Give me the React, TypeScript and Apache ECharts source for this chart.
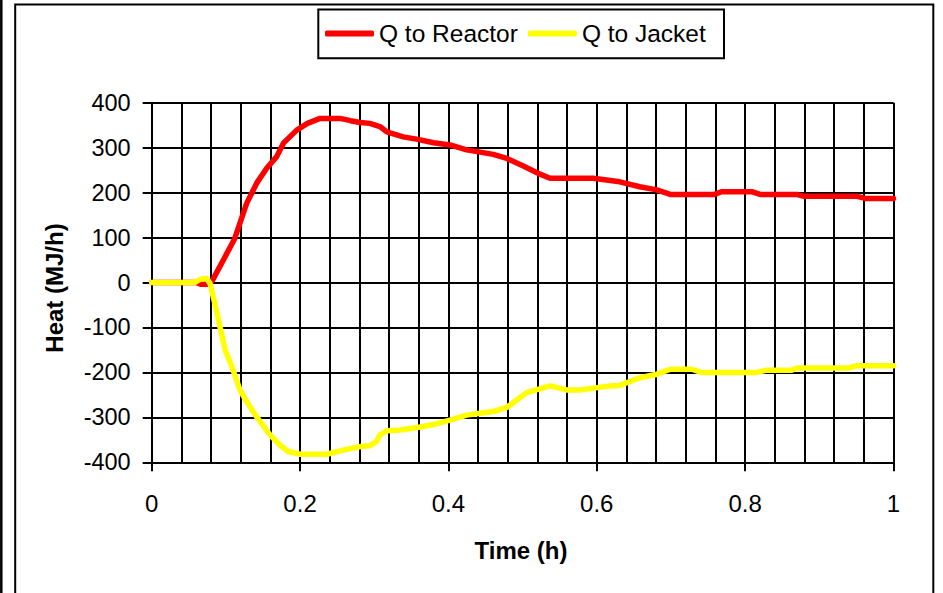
import React, { useEffect, useRef } from "react";
import * as echarts from "echarts";

const seriesNames = ["Q to Reactor", "Q to Jacket"];

const reactorTime = [0, 0.06, 0.066, 0.075, 0.081, 0.0966, 0.112, 0.119, 0.128, 0.1415, 0.155, 0.1685, 0.1775, 0.1955, 0.21, 0.227, 0.254, 0.268, 0.281, 0.294, 0.3077, 0.317, 0.339, 0.357, 0.38, 0.402, 0.4246, 0.4426, 0.4605, 0.4786, 0.501, 0.5235, 0.537, 0.559, 0.595, 0.631, 0.658, 0.681, 0.699, 0.759, 0.768, 0.809, 0.82, 0.8695, 0.878, 0.95, 0.9616, 1.0];
const reactorHeat = [0, 0, -4, -4, 2, 50, 98, 132, 176, 221, 254, 280, 310, 339, 354, 365, 365, 360, 356, 354, 347, 335, 324, 319, 311, 306, 295, 290, 285, 276, 259, 241, 232, 232, 232, 224, 213, 206, 196, 196, 202, 202, 196, 196, 192, 192, 187, 187];

const jacketTime = [0, 0.058, 0.065, 0.074, 0.0786, 0.085, 0.092, 0.099, 0.108, 0.119, 0.128, 0.1415, 0.1595, 0.173, 0.184, 0.2, 0.236, 0.258, 0.281, 0.294, 0.303, 0.3077, 0.317, 0.335, 0.36, 0.38, 0.402, 0.4246, 0.4426, 0.4605, 0.4786, 0.5055, 0.537, 0.559, 0.577, 0.618, 0.631, 0.658, 0.681, 0.699, 0.728, 0.741, 0.816, 0.829, 0.8628, 0.8695, 0.941, 0.95, 1.0];
const jacketHeat = [0, 0, 7, 9, -2, -46, -98, -150, -187, -239, -265, -299, -339, -362, -376, -382, -382, -373, -365, -363, -354, -339, -330, -328, -322, -316, -306, -295, -291, -287, -278, -245, -230, -239, -239, -230, -229, -212, -204, -193, -193, -200, -200, -195, -195, -190, -190, -185, -185];

const xMin = 0;
const xMax = 1;
const xInterval = 0.2;
const yMin = -400;
const yMax = 400;
const yInterval = 100;

const xTitle = "Time (h)";
const yTitle = "Heat (MJ/h)";

const FONT = "'Liberation Sans', Arial, sans-serif";

export default function App() {
  const ref = useRef<HTMLDivElement>(null);

  useEffect(() => {
    if (!ref.current) return;
    const chart = echarts.init(ref.current, undefined, { renderer: "svg" });
    const reactorData = reactorTime.map((t, i) => [t, reactorHeat[i]]);
    const jacketData = jacketTime.map((t, i) => [t, jacketHeat[i]]);
    const black = "#000000";

    chart.setOption({
      animation: false,
      backgroundColor: "#ffffff",
      textStyle: { fontFamily: FONT, color: black },
      grid: { left: 151.7, top: 102.7, width: 741.8, height: 359.6, containLabel: false },
      legend: {
        show: true,
        left: 325,
        top: 21,
        padding: 0,
        itemGap: 10,
        itemWidth: 49,
        itemHeight: 6,
        icon: "roundRect",
        data: seriesNames,
        textStyle: { fontFamily: FONT, fontSize: 24.5, color: black },
      },
      xAxis: {
        type: "value",
        min: xMin,
        max: xMax,
        interval: xInterval,
        axisLine: { show: true, onZero: false, lineStyle: { color: black, width: 2 } },
        axisTick: { show: true, inside: false, length: 9, lineStyle: { color: black, width: 2 } },
        axisLabel: { show: true, margin: 29, fontSize: 24, color: black, fontFamily: FONT },
        splitLine: { show: true, lineStyle: { color: black, width: 2 } },
        minorTick: { show: false, splitNumber: 5 },
        minorSplitLine: { show: true, lineStyle: { color: black, width: 2 } },
      },
      yAxis: {
        type: "value",
        min: yMin,
        max: yMax,
        interval: yInterval,
        axisLine: { show: true, onZero: false, lineStyle: { color: black, width: 2 } },
        axisTick: { show: true, inside: false, length: 9, lineStyle: { color: black, width: 2 } },
        axisLabel: { show: true, margin: 21, fontSize: 23.5, color: black, fontFamily: FONT },
        splitLine: { show: true, lineStyle: { color: black, width: 2 } },
      },
      graphic: [
        {
          type: "polyline",
          shape: { points: [[15.2, 600], [15.2, 4.5], [933.3, 4.5], [933.3, 600]] },
          style: { stroke: black, lineWidth: 2, fill: "none" },
          silent: true,
        },
        {
          type: "line",
          shape: { x1: 1.3, y1: 0, x2: 1.3, y2: 600 },
          style: { stroke: black, lineWidth: 2.5 },
          silent: true,
        },
        {
          type: "rect",
          shape: { x: 318.3, y: 9.5, width: 405.7, height: 48.8 },
          style: { stroke: black, lineWidth: 2, fill: "none" },
          silent: true,
        },
        {
          type: "text",
          x: 54,
          y: 288,
          rotation: Math.PI / 2,
          style: {
            text: yTitle,
            font: `bold 24px ${FONT}`,
            fill: black,
            align: "center",
            verticalAlign: "middle",
          },
          silent: true,
        },
        {
          type: "text",
          x: 521,
          y: 550,
          style: {
            text: xTitle,
            font: `bold 24px ${FONT}`,
            fill: black,
            align: "center",
            verticalAlign: "middle",
          },
          silent: true,
        },
      ],
      series: [
        {
          name: seriesNames[0],
          type: "line",
          data: reactorData,
          symbol: "none",
          showSymbol: false,
          lineStyle: { color: "#ff0000", width: 5.5, cap: "round", join: "round" },
          itemStyle: { color: "#ff0000" },
          z: 2,
        },
        {
          name: seriesNames[1],
          type: "line",
          data: jacketData,
          symbol: "none",
          showSymbol: false,
          lineStyle: { color: "#ffff00", width: 5.5, cap: "round", join: "round" },
          itemStyle: { color: "#ffff00" },
          z: 3,
        },
      ],
    });

    return () => {
      chart.dispose();
    };
  }, []);

  return (
    <div
      ref={ref}
      style={{ position: "fixed", left: 0, top: 0, width: 943, height: 593, background: "#fff" }}
    />
  );
}
